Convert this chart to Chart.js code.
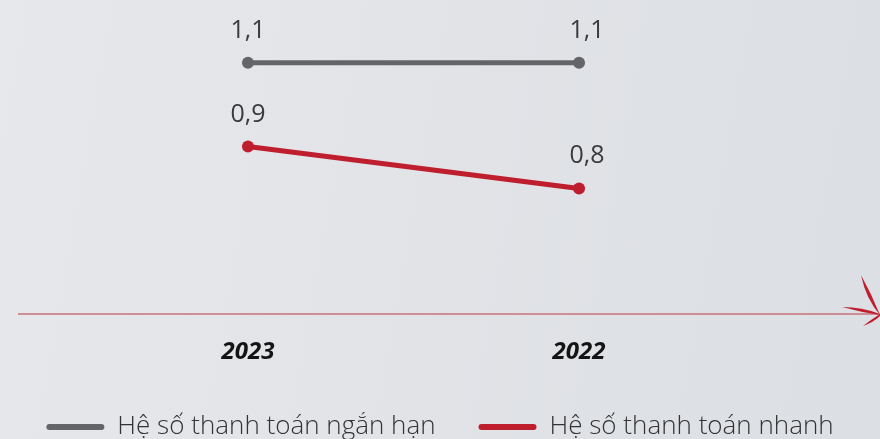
<!DOCTYPE html>
<html lang="vi">
<head>
<meta charset="utf-8">
<title>Hệ số thanh toán</title>
<script src="https://cdn.jsdelivr.net/npm/chart.js@4/dist/chart.umd.min.js"></script>
<style>
  html, body { margin: 0; padding: 0; }
  body {
    width: 880px; height: 439px; overflow: hidden;
    background: linear-gradient(100deg, #e7e8eb 0%, #e1e3e7 50%, #dcdfe3 100%);
  }
  canvas { display: block; }
</style>
</head>
<body>
<canvas id="chart" width="880" height="439"></canvas>
<script>
// --- data ---
const YEARS = ["2023", "2022"];
const SHORT_TERM = [1.1, 1.1]; // Hệ số thanh toán ngắn hạn
const QUICK = [0.9, 0.8];      // Hệ số thanh toán nhanh
const SERIES_NAMES = ["Hệ số thanh toán ngắn hạn", "Hệ số thanh toán nhanh"];

const GRAY = "#646568";
const RED = "#be1e2d";
const FONT = "'Open Sans', 'Noto Sans', sans-serif";

const fmt = (v) => String(v).replace(".", ",");
const toPoints = (arr) => arr.map((y, i) => ({ x: i, y }));

// nhãn giá trị trên mỗi điểm
const valueLabels = {
  id: "valueLabels",
  afterDatasetsDraw(chart) {
    const { ctx } = chart;
    ctx.save();
    ctx.font = `400 25px ${FONT}`;
    ctx.fillStyle = "#3b3b3b";
    ctx.textAlign = "center";
    ctx.textBaseline = "alphabetic";
    chart.data.datasets.forEach((ds, di) => {
      chart.getDatasetMeta(di).data.forEach((pt, i) => {
        ctx.fillText(fmt(ds.data[i].y), pt.x + (i === 1 ? 8 : 0), pt.y - 25);
      });
    });
    ctx.restore();
  },
};

// trục ngang + đầu mũi tên
const axisArrow = {
  id: "axisArrow",
  beforeDatasetsDraw(chart) {
    const { ctx, width } = chart;
    const y = chart.scales.y.getPixelForValue(0.5);
    ctx.save();
    ctx.strokeStyle = "#c7727a";
    ctx.lineWidth = 1.5;
    ctx.beginPath();
    ctx.moveTo(18, y);
    ctx.lineTo(width - 2, y);
    ctx.stroke();

    const tx = width, ty = y + 1;
    ctx.fillStyle = RED;
    // cánh trên
    ctx.beginPath();
    ctx.moveTo(tx, ty);
    ctx.quadraticCurveTo(tx - 14, ty - 16, tx - 19, ty - 40);
    ctx.quadraticCurveTo(tx - 8, ty - 20, tx, ty);
    ctx.fill();
    // mũi giữa
    ctx.beginPath();
    ctx.moveTo(tx, ty);
    ctx.quadraticCurveTo(tx - 20, ty - 3, tx - 38, ty - 8);
    ctx.quadraticCurveTo(tx - 18, ty - 8, tx, ty - 1);
    ctx.fill();
    // cánh dưới
    ctx.beginPath();
    ctx.moveTo(tx, ty - 1);
    ctx.quadraticCurveTo(tx - 8, ty + 4, tx - 17, ty + 11);
    ctx.quadraticCurveTo(tx - 6, ty + 7, tx, ty + 1);
    ctx.fill();
    ctx.restore();
  },
};

new Chart(document.getElementById("chart"), {
  type: "line",
  data: {
    datasets: [
      { label: SERIES_NAMES[0], data: toPoints(SHORT_TERM), borderColor: GRAY, backgroundColor: GRAY },
      { label: SERIES_NAMES[1], data: toPoints(QUICK), borderColor: RED, backgroundColor: RED },
    ],
  },
  options: {
    responsive: false,
    animation: false,
    layout: { autoPadding: false, padding: { left: 0, right: 0, top: 0, bottom: 0 } },
    elements: {
      line: { borderWidth: 5, tension: 0, borderCapStyle: "round" },
      point: { radius: 6, hoverRadius: 6, borderWidth: 0 },
    },
    scales: {
      x: {
        type: "linear",
        min: -0.749,
        max: 1.909,
        grid: { display: false, drawTicks: false },
        border: { display: false },
        afterBuildTicks: (scale) => { scale.ticks = YEARS.map((_, i) => ({ value: i })); },
        afterFit: (scale) => { scale.height = 57; },
        ticks: {
          padding: 24,
          color: "#141414",
          font: { family: FONT, size: 24, weight: "bold", style: "italic" },
          callback: (v) => YEARS[v] ?? "",
        },
      },
      y: { display: false, min: 0.5, max: 1.25 },
    },
    plugins: {
      tooltip: { enabled: false },
      legend: {
        position: "bottom",
        maxHeight: 68,
        labels: {
          boxWidth: 58,
          boxHeight: 6,
          useBorderRadius: true,
          borderRadius: 3,
          padding: 43,
          color: "#333333",
          font: { family: FONT, size: 26, weight: "300" },
          generateLabels: (chart) =>
            Chart.defaults.plugins.legend.labels.generateLabels(chart).map((l) => ({ ...l, lineWidth: 0 })),
        },
      },
    },
  },
  plugins: [axisArrow, valueLabels],
});
</script>
</body>
</html>
